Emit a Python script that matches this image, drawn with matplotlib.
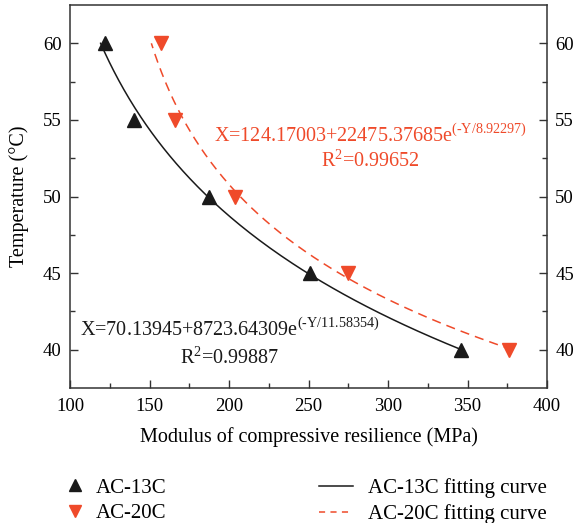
import numpy as np
import matplotlib.pyplot as plt
from matplotlib.lines import Line2D

plt.rcParams['font.family'] = 'Liberation Serif'
plt.rcParams['mathtext.fontset'] = 'custom'
plt.rcParams['mathtext.rm'] = 'Liberation Serif'

# measured points (modulus in MPa, temperature in degC)
temp = [60, 55, 50, 45, 40]
mod_13c = [122, 140, 187.5, 251, 346]
mod_20c = [157, 166, 204, 275, 376]

# fit parameters printed on the chart: X = a + b*exp(-Y/c)
fit_13c = [70.13945, 8723.64309, 11.58354]
fit_20c = [124.17003, 22475.37685, 8.92297]

black = '#1a1a1a'
red = '#EF4A2A'

fig = plt.figure(figsize=(5.79, 5.23), dpi=100)
ax = fig.add_axes([70/579, 1 - 388/523, 477/579, 383/523])

y_fit = np.linspace(40, 60, 200)
x13 = fit_13c[0] + fit_13c[1]*np.exp(-y_fit/fit_13c[2])
x20 = fit_20c[0] + fit_20c[1]*np.exp(-y_fit/fit_20c[2])
ax.plot(x13, y_fit, '-', color=black, lw=1.1)
ax.plot(x20, y_fit, '--', color=red, lw=1.1, dashes=(6, 4))

ax.plot(mod_13c, temp, '^', color=black, ms=10.5, ls='none')
ax.plot(mod_20c, temp, 'v', color=red, ms=10.5, ls='none')

ax.set_xlim(100, 400)
ax.set_ylim(37.5, 62.5)
ax.set_xticks(range(100, 401, 50))
ax.set_xticks(range(125, 400, 50), minor=True)
ax.set_yticks(range(40, 61, 5))
ax.set_yticks([42.5, 47.5, 52.5, 57.5], minor=True)
ax.tick_params(which='both', direction='in', labelsize=13.5, color='#333333',
               right=True, labelright=True, top=False)
ax.tick_params(which='major', length=6, width=1)
ax.tick_params(which='minor', length=3.5, width=1)
ax.tick_params(axis='x', pad=7)
ax.tick_params(axis='y', pad=6)
for s in ax.spines.values():
    s.set_color('#333333')
    s.set_linewidth(1.1)

ax.set_xlabel('Modulus of compressive resilience (MPa)', fontsize=14.5, labelpad=9)
ax.set_ylabel('Temperature (°C)', fontsize=14.5, labelpad=10)

hy = '\u2010'  # plain hyphen inside the superscript, not a minus sign
ax.text(289, 53.95, 'X=124.17003+22475.37685e$^{\\mathregular{(' + hy + 'Y/8.92297)}}$',
        color=red, fontsize=14.5, ha='center', va='center')
ax.text(289, 52.35, r'R$^{\mathregular{2}}$=0.99652',
        color=red, fontsize=14.5, ha='center', va='center')
ax.text(200.5, 41.3, 'X=70.13945+8723.64309e$^{\\mathregular{(' + hy + 'Y/11.58354)}}$',
        color=black, fontsize=14.5, ha='center', va='center')
ax.text(200.5, 39.5, r'R$^{\mathregular{2}}$=0.99887',
        color=black, fontsize=14.5, ha='center', va='center')

leg_kw = dict(loc='upper left', frameon=False, fontsize=15, borderpad=0,
              borderaxespad=0, labelspacing=0.3)
h_pts = [
    Line2D([], [], marker='^', color=black, ls='none', ms=8),
    Line2D([], [], marker='v', color=red, ls='none', ms=8),
]
h_fit = [
    Line2D([], [], color=black, lw=1.1),
    Line2D([], [], color=red, lw=1.1, ls='--', dashes=(4, 3.5)),
]
fig.legend(h_pts, ['AC-13C', 'AC-20C'], bbox_to_anchor=(67/579, 1 - 478/523),
           handlelength=0.8, handletextpad=0.58, **leg_kw)
fig.legend(h_fit, ['AC-13C fitting curve', 'AC-20C fitting curve'],
           bbox_to_anchor=(319/579, 1 - 478/523),
           handlelength=1.63, handletextpad=0.72, **leg_kw)

fig.savefig('out.png', dpi=100)
